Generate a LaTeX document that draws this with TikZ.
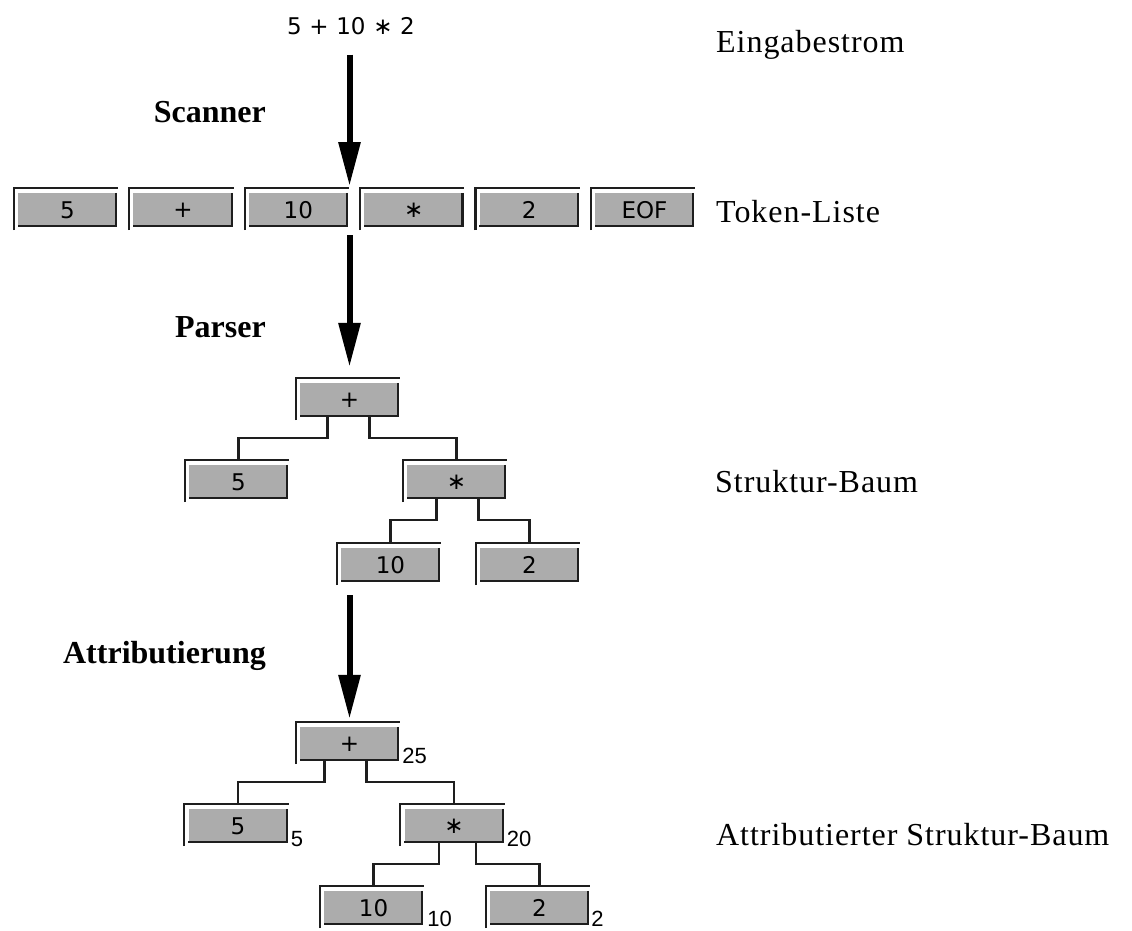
\documentclass[tikz,border=0pt]{standalone}
\usepackage{fontspec}
\setmainfont{Liberation Serif}
\newfontfamily\boxfont{DejaVu Sans}
\newfontfamily\subfont{Liberation Sans}
\newfontfamily\layerfont[LetterSpace=3]{Liberation Serif}
\usepackage{xcolor}
\definecolor{boxgray}{HTML}{ACACAC}
\definecolor{rimdark}{HTML}{1E1E1E}
\usetikzlibrary{arrows.meta, positioning}
\tikzset{
    tok/.style={fill=boxgray, inner sep=0pt, minimum width=99pt,
                minimum height=34pt, font=\boxfont\fontsize{23}{26}\selectfont},
    rim/.style={line width=2.2pt, draw=rimdark},
    link/.style={line width=2.2pt, draw=rimdark},
    flow/.style={line width=6pt, -{Triangle[length=44pt, width=21pt]}},
    stage/.style={anchor=base east, inner sep=0pt,
                  font=\bfseries\fontsize{32}{38}\selectfont},
    layer/.style={anchor=base west, inner sep=0pt,
                  font=\layerfont\fontsize{32}{38}\selectfont},
    attr/.style={anchor=base west, inner sep=0pt,
                 font=\subfont\fontsize{22}{26}\selectfont},
    expr/.style={anchor=base, inner sep=0pt,
                 font=\boxfont\fontsize{23}{26}\selectfont},
}

\begin{document}
\begin{tikzpicture}[x=1pt, y=-1pt, node distance=16pt]
    \useasboundingbox (0,0) rectangle (1132,930);

    % input and token list
    \node[expr] (expr) at (351,34) {5\,\,+\,\,10\,\,∗\,\,2};
    \node[tok] (t1) at (67.5,210) {5};
    \node[tok, right=of t1] (t2) {+};
    \node[tok, right=of t2] (t3) {10};
    \node[tok, right=of t3] (t4) {∗};
    \node[tok, right=of t4] (t5) {2};
    \node[tok, right=of t5] (t6) {EOF};

    % structure tree
    \node[tok] (plus1) at (349.5,400) {+};
    \node[tok] (five1) at (238.5,482) {5};
    \node[tok] (star1) at (456.5,482) {∗};
    \node[tok] (ten1)  at (390.5,565) {10};
    \node[tok] (two1)  at (529.5,565) {2};

    % attributed tree
    \node[tok] (plus2) at (349.5,744) {+};
    \node[tok] (five2) at (238,826) {5};
    \node[tok] (star2) at (454,826) {∗};
    \node[tok] (ten2)  at (373.5,908) {10};
    \node[tok] (two2)  at (539.5,908) {2};

    \foreach \n in {t1,t2,t3,t4,t5,t6,plus1,five1,star1,ten1,two1,
                    plus2,five2,star2,ten2,two2} {
        \draw[rim] ([xshift=-4pt,yshift=-3pt]\n.south west)
            -- ([xshift=-4pt,yshift=5pt]\n.north west)
            -- ([xshift=1pt,yshift=5pt]\n.north east);
        \draw[rim] ([xshift=-1pt]\n.north east)
            -- ([xshift=-1pt,yshift=1pt]\n.south east)
            -- ([yshift=1pt]\n.south west);
    }

    \foreach \p/\dx/\c in {plus1/-22/five1, plus1/20/star1,
                           star1/-20/ten1, star1/22/two1,
                           plus2/-25/five2, plus2/17/star2,
                           star2/-15/ten2, star2/22/two2} {
        \draw[link] ([xshift=\dx pt]\p.south) -- ++(0,21)
            -| ([yshift=5pt]\c.north);
    }

    % attribute values
    \node[attr] (v25) at ([xshift=3pt,yshift=-2pt]plus2.south east) {25};
    \node[attr] (v5)  at ([xshift=3pt,yshift=-3pt]five2.south east) {5};
    \node[attr] (v20) at ([xshift=3pt,yshift=-3pt]star2.south east) {20};
    \node[attr] (v10) at ([xshift=4pt,yshift=-1pt]ten2.south east) {10};
    \node[attr] (v2)  at ([xshift=2pt,yshift=-1pt]two2.south east) {2};

    % phases
    \coordinate (scanTip) at (349.5,186);
    \coordinate (parseTop) at (349.5,235);
    \coordinate (attrTop) at (349.5,595);
    \draw[flow] ([xshift=-1.5pt,yshift=-20pt]expr.south) -- (scanTip);
    \draw[flow] (parseTop) -- ([yshift=16pt]plus1.north);
    \draw[flow] (attrTop) -- ([yshift=8pt]plus2.north);

    \node[stage] (scanner) at (266,122) {Scanner};
    \node[stage] (parser)  at (266,337) {Parser};
    \node[stage] (attrib)  at (266,663) {Attributierung};

    % layer names
    \node[layer] (lblIn)   at (716,52)  {Eingabestrom};
    \node[layer] (lblTok)  at (716,222) {Token-Liste};
    \node[layer] (lblTree) at (715,492) {Struktur-Baum};
    \node[layer] (lblAttr) at (716,845) {Attributierter Struktur-Baum};
\end{tikzpicture}
\end{document}
